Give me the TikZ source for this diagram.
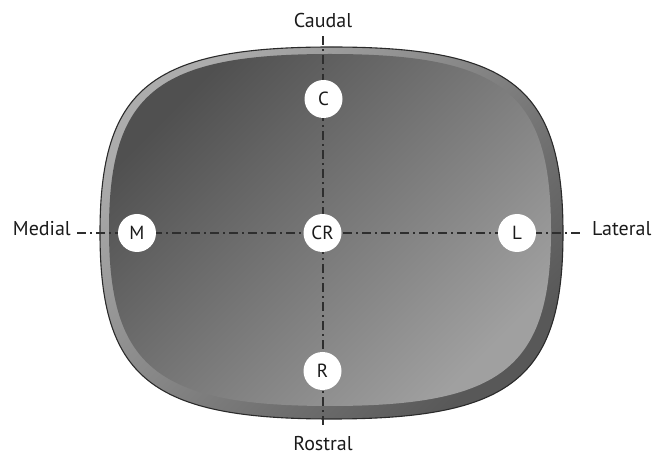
\documentclass[tikz,border=0pt]{standalone}
\usepackage{fontspec}
\setmainfont{PT Sans}
\definecolor{ink}{HTML}{1A1A1A}
\definecolor{axisink}{HTML}{2E2E2E}
\definecolor{outline}{HTML}{2A2A2A}
\definecolor{rimlight}{HTML}{ACACAC}
\definecolor{rimdark}{HTML}{585858}
\definecolor{bodydark}{HTML}{505050}
\definecolor{bodylight}{HTML}{A0A0A0}
\begin{document}
\begin{tikzpicture}[x=1pt,y=-1pt,
  axisline/.style={draw=axisink,line width=1.8pt,dash pattern=on 9pt off 4pt on 2pt off 4pt},
  dirlabel/.style={font=\fontsize{20}{24}\selectfont,text=ink,inner sep=0pt},
  marker/.style={circle,fill=white,minimum size=38pt,inner sep=0pt,
    font=\fontsize{19}{22}\selectfont,text=ink}]
\useasboundingbox (0,0) rectangle (662,454);

% outer rim of the section
\path[top color=rimlight,bottom color=rimdark,shading angle=45]
  (331.5,47) .. controls (512,47) and (563,88) .. (563,233)
  .. controls (563,378) and (512,419) .. (331.5,419)
  .. controls (151,419) and (100,378) .. (100,233)
  .. controls (100,88) and (151,47) .. (331.5,47) -- cycle;
% inner face
\path[top color=bodydark,bottom color=bodylight,shading angle=45]
  (330,54) .. controls (502.4,54) and (551,92.7) .. (551,230)
  .. controls (551,367.3) and (502.4,406) .. (330,406)
  .. controls (157.6,406) and (109,367.3) .. (109,230)
  .. controls (109,92.7) and (157.6,54) .. (330,54) -- cycle;
% outline
\draw[outline,line width=1.1pt]
  (331.5,47) .. controls (512,47) and (563,88) .. (563,233)
  .. controls (563,378) and (512,419) .. (331.5,419)
  .. controls (151,419) and (100,378) .. (100,233)
  .. controls (100,88) and (151,47) .. (331.5,47) -- cycle;

% direction labels
\node[dirlabel,anchor=base] (caudal) at (323,28) {Caudal};
\node[dirlabel,anchor=base] (rostral) at (323,450) {Rostral};
\node[dirlabel,anchor=base east] (medial) at (71,236) {Medial};
\node[dirlabel,anchor=base west] (lateral) at (592,236) {Lateral};

% axes
\draw[axisline,shorten <=8pt,shorten >=7pt] (caudal.south) -- (rostral.north);
\draw[axisline,shorten <=6pt,shorten >=12pt] (medial.east |- 0,233) -- (lateral.west |- 0,233);

% landmark markers
\node[marker] (C) at (323.5,99) {C};
\node[marker] (M) at (137,233) {M};
\node[marker] (CR) at (322.5,233) {CR};
\node[marker] (L) at (517,233) {L};
\node[marker] (R) at (322.5,371) {R};
\end{tikzpicture}
\end{document}
